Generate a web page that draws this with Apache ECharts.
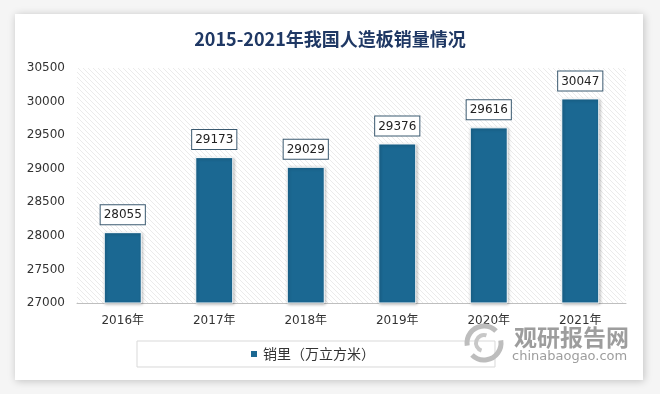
<!DOCTYPE html>
<html>
<head>
<meta charset="utf-8">
<script src="https://cdn.jsdelivr.net/npm/echarts@6/dist/echarts.min.js"></script>
<style>
html,body{margin:0;padding:0;background:#f5f5f5;}
#chart{width:660px;height:394px;}
</style>
</head>
<body>
<div id="chart"></div>
<script>
const categories = ['2016年', '2017年', '2018年', '2019年', '2020年', '2021年'];
const salesValues = [28055, 29173, 29029, 29376, 29616, 30047];
const seriesName = '销里（万立方米）';
const titleText = '2015-2021年我国人造板销量情况';
const yMin = 27000, yMax = 30500, yStep = 500;

// hatch pattern
const pc = document.createElement('canvas');
pc.width = 5; pc.height = 5;
const g = pc.getContext('2d');
g.fillStyle = '#ffffff'; g.fillRect(0, 0, 5, 5);
g.strokeStyle = '#ebebeb'; g.lineWidth = 1;
g.beginPath();
g.moveTo(-1, -1); g.lineTo(6, 6);
g.moveTo(-1, 4); g.lineTo(1, 6);
g.moveTo(4, -1); g.lineTo(6, 1);
g.stroke();

const chart = echarts.init(document.getElementById('chart'), null, {renderer: 'canvas'});
chart.setOption({
  backgroundColor: '#f5f5f5',
  animation: false,
  title: {
    text: titleText,
    left: 'center',
    top: 25,
    textStyle: {fontFamily: 'Noto Sans CJK SC', fontSize: 18, fontWeight: 'bold', color: '#1f3864'}
  },
  graphic: [
    {type: 'rect', z: -10, shape: {x: 15, y: 14, width: 628, height: 366},
      style: {fill: '#ffffff', shadowBlur: 8, shadowColor: 'rgba(0,0,0,0.22)', shadowOffsetX: 1, shadowOffsetY: 1}},
    {type: 'arc', z: 10, shape: {cx: 484, cy: 343, r: 17, startAngle: Math.PI * 0.95, endAngle: Math.PI * 1.75},
      style: {stroke: '#bdbdbd', lineWidth: 5, fill: null}},
    {type: 'arc', z: 10, shape: {cx: 484, cy: 343, r: 17, startAngle: -Math.PI * 0.05, endAngle: Math.PI * 0.75},
      style: {stroke: '#bdbdbd', lineWidth: 5, fill: null}},
    {type: 'arc', z: 10, shape: {cx: 484, cy: 343, r: 8, startAngle: Math.PI * 0.6, endAngle: Math.PI * 1.6},
      style: {stroke: '#c8c8c8', lineWidth: 4, fill: null}},
    {type: 'text', z: 10, left: 514, top: 326,
      style: {text: '观研报告网', font: 'bold 23px "Noto Sans CJK SC"', fill: 'rgba(140,140,140,0.85)'}},
    {type: 'text', z: 10, left: 512, top: 350,
      style: {text: 'chinabaogao.com', font: '13px "DejaVu Sans"', fill: 'rgba(140,140,140,0.85)'}}
  ],
  grid: {
    left: 77, right: 34, top: 68, bottom: 91,
    show: true, borderWidth: 0,
    backgroundColor: {image: pc, repeat: 'repeat'}
  },
  legend: {
    data: [seriesName],
    left: 137, top: 341,
    padding: [6, 120, 6, 112],
    backgroundColor: '#ffffff',
    borderColor: '#d9d9d9', borderWidth: 1,
    icon: 'rect', itemWidth: 8, itemHeight: 8, itemGap: 5,
    textStyle: {fontFamily: 'Noto Sans CJK SC', fontSize: 14, color: '#333'}
  },
  xAxis: {
    type: 'category',
    data: categories,
    axisLine: {lineStyle: {color: '#bfbfbf'}},
    axisTick: {show: false},
    axisLabel: {fontFamily: 'DejaVu Sans, Noto Sans CJK SC', fontSize: 12, color: '#333', margin: 12}
  },
  yAxis: {
    type: 'value',
    min: yMin, max: yMax, interval: yStep,
    axisLine: {show: false},
    axisTick: {show: false},
    splitLine: {show: false},
    axisLabel: {fontFamily: 'DejaVu Sans', fontSize: 12, color: '#333', margin: 12,
      formatter: v => String(v)}
  },
  series: [{
    name: seriesName,
    type: 'bar',
    data: salesValues,
    barWidth: 38,
    itemStyle: {color: '#1b6892', borderColor: '#ffffff', borderWidth: 1,
      shadowColor: 'rgba(0,0,0,0.3)', shadowBlur: 3, shadowOffsetX: 1, shadowOffsetY: 1},
    label: {
      show: true, position: 'top', distance: 8,
      fontFamily: 'DejaVu Sans', fontSize: 12, color: '#222',
      backgroundColor: '#ffffff', borderColor: '#3b5a70', borderWidth: 1,
      padding: [4, 3, 3, 3]
    }
  }]
});
</script>
</body>
</html>
